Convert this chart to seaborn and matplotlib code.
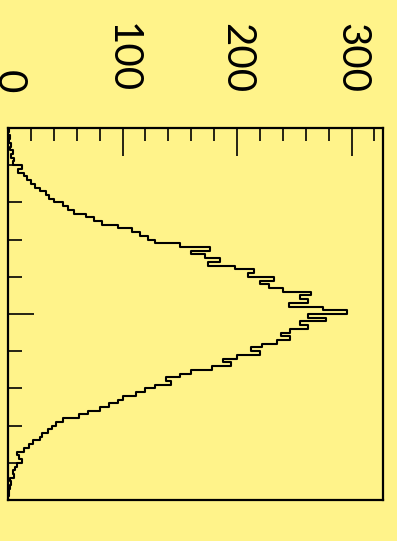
import numpy as np
import pandas as pd
import matplotlib
matplotlib.use("Agg")
import matplotlib.pyplot as plt
import seaborn as sns
from matplotlib.ticker import MultipleLocator

# ---- data ----
bin_edges_lo = -5.0
bin_edges_hi = 5.0
n_bins = 100
counts = [1, 0, 2, 1, 3, 2, 4, 3, 5, 4,
          12, 9, 14, 17, 20, 24, 28, 33, 36, 40,
          48, 52, 58, 68, 75, 82, 96, 108, 115, 122,
          128, 150, 176, 160, 172, 185, 175, 198, 215, 210,
          232, 220, 228, 240, 265, 255, 262, 245, 275, 296,
          262, 278, 255, 262, 246, 238, 246, 235, 222, 212,
          220, 200, 188, 195, 178, 160, 150, 138, 142, 128,
          120, 112, 100, 96, 88, 80, 70, 62, 48, 42,
          38, 35, 30, 28, 22, 18, 14, 8, 10, 12,
          8, 6, 4, 5, 2, 3, 2, 1, 1, 0]
count_ticks = [0, 100, 200, 300]
count_tick_labels = ["0", "100", "200", "300"]

edges = np.linspace(bin_edges_lo, bin_edges_hi, n_bins + 1)
centers = (edges[:-1] + edges[1:]) / 2
df = pd.DataFrame({"x": centers, "n": counts})

bg = "#fff38a"
sns.set_style("ticks")
plt.rcParams['font.family'] = ['Lato', 'DejaVu Sans']

fig = plt.figure(figsize=(3.97, 5.41), dpi=100, facecolor=bg)
ax = fig.add_axes([8 / 397, 1 - 500 / 541, 375 / 397, 372 / 541])
ax.set_facecolor(bg)

sns.histplot(data=df, y="x", weights="n", bins=n_bins,
             binrange=(bin_edges_lo, bin_edges_hi), element="step",
             fill=False, color="black", linewidth=1.5, ax=ax)

ax.set_xlim(0, 327.5)
ax.set_ylim(bin_edges_hi, bin_edges_lo)

ax.xaxis.tick_top()
ax.set_xticks(count_ticks)
ax.set_xticklabels(count_tick_labels, rotation=-90, fontsize=29,
                   fontweight="normal", color="black")
ax.xaxis.set_minor_locator(MultipleLocator(20))
ax.tick_params(axis="x", which="major", direction="in", length=20, width=1.2,
               pad=25, top=True, bottom=False, labeltop=True, labelbottom=False,
               color="black")
ax.tick_params(axis="x", which="minor", direction="in", length=9.5, width=1.2,
               top=True, bottom=False, color="black")

ax.set_yticks([0])
ax.set_yticklabels([])
ax.yaxis.set_minor_locator(MultipleLocator(1))
ax.tick_params(axis="y", which="major", direction="in", length=19, width=1.2,
               left=True, right=False, color="black")
ax.tick_params(axis="y", which="minor", direction="in", length=10, width=1.2,
               left=True, right=False, color="black")

for s in ax.spines.values():
    s.set_visible(True)
    s.set_linewidth(1.6)
    s.set_color("black")

ax.set_xlabel("")
ax.set_ylabel("")

fig.savefig("out.png", dpi=100, facecolor=bg)
